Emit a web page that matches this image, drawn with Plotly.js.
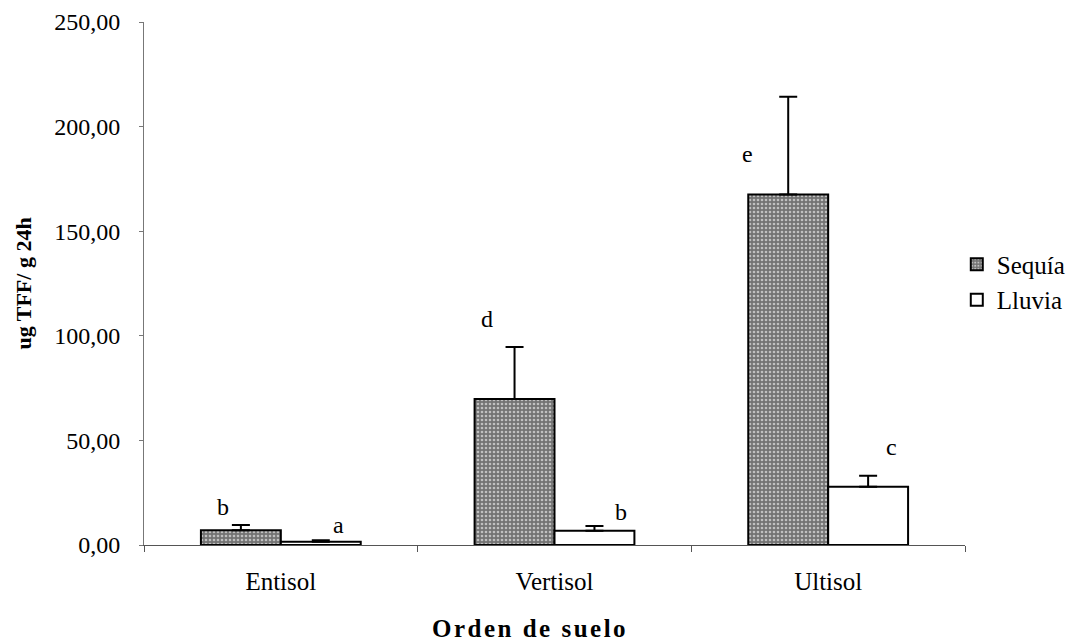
<!DOCTYPE html>
<html>
<head>
<meta charset="utf-8">
<script src="https://cdn.plot.ly/plotly-3.0.1.min.js"></script>
<style>html,body{margin:0;padding:0;background:#fff;}#chart{width:1075px;height:641px;}</style>
</head>
<body>
<div id="chart"></div>
<script>
const categories = ["Entisol", "Vertisol", "Ultisol"];
const sequiaValues = [7.0, 69.8, 167.6];
const sequiaErrors = [2.6, 24.8, 46.7];
const lluviaValues = [1.5, 6.8, 27.9];
const lluviaErrors = [0.8, 2.3, 5.2];
const sequiaLetters = ["b", "d", "e"];
const lluviaLetters = ["a", "b", "c"];
const sequiaLetterY = [18, 108, 187];
const lluviaLetterY = [9.5, 16, 47];
const yTicks = [0, 50, 100, 150, 200, 250];

const serif = "Liberation Serif";

const traces = [
  {
    type: "bar", name: "Sequía", x: categories, y: sequiaValues,
    marker: {
      color: "#8a8a8a",
      line: {color: "#000", width: 2},
      pattern: {shape: ".", bgcolor: "#737373", fgcolor: "#c0c0c0", size: 4, solidity: 0.35}
    },
    error_y: {type: "data", symmetric: false, array: sequiaErrors, arrayminus: [0,0,0], color: "#000", thickness: 2, width: 9}
  },
  {
    type: "bar", name: "Lluvia", x: categories, y: lluviaValues,
    marker: {color: "#fff", line: {color: "#000", width: 2}},
    error_y: {type: "data", symmetric: false, array: lluviaErrors, arrayminus: [0,0,0], color: "#000", thickness: 2, width: 9}
  }
];

const seqShift = [-58, -68, -81];
const lluShift = [58, 66, 63];
const annotations = [];
categories.forEach((c, i) => {
  annotations.push({x: c, y: sequiaLetterY[i], text: sequiaLetters[i], showarrow: false, xshift: seqShift[i], font: {family: serif, size: 24, color: "#000"}});
  annotations.push({x: c, y: lluviaLetterY[i], text: lluviaLetters[i], showarrow: false, xshift: lluShift[i], font: {family: serif, size: 24, color: "#000"}});
});
annotations.push({
  xref: "paper", yref: "paper", x: 0.47, y: -0.16, xanchor: "center", yanchor: "middle",
  text: "<b><span style=\"letter-spacing:2.5px\">Orden de suelo</span></b>", showarrow: false,
  font: {family: serif, size: 25, color: "#000"}
});

const layout = {
  width: 1075, height: 641,
  margin: {l: 144, r: 110, t: 22, b: 96, pad: 0, autoexpand: false},
  paper_bgcolor: "#fff", plot_bgcolor: "#fff",
  barmode: "group", bargap: 0.416, bargroupgap: 0,
  separators: ",.",
  font: {family: serif, size: 18, color: "#000"},
  showlegend: true,
  legend: {x: 0.99, xanchor: "left", y: 0.503, yanchor: "middle", font: {family: serif, size: 25, color: "#000"}, itemwidth: 30, tracegroupgap: 0, bgcolor: "rgba(0,0,0,0)"},
  xaxis: {
    type: "category", showgrid: false, zeroline: false,
    showline: true, linecolor: "#555", linewidth: 1,
    ticks: "outside", ticklen: 6, tickcolor: "#555", tickson: "boundaries",
    ticklabelstandoff: 14,
    tickfont: {family: serif, size: 25, color: "#000"}
  },
  yaxis: {
    range: [0, 250], tickvals: yTicks, tickformat: ".2f",
    showgrid: false, zeroline: false,
    showline: true, linecolor: "#777", linewidth: 1,
    ticks: "outside", ticklen: 4, tickcolor: "#777",
    ticklabelstandoff: 14,
    tickfont: {family: serif, size: 24, color: "#000"},
    title: {text: "<b>ug TFF/ g 24h</b>", font: {family: serif, size: 22, color: "#000"}, standoff: 16}
  },
  annotations: annotations
};

Plotly.newPlot("chart", traces, layout, {displayModeBar: false, staticPlot: true});
</script>
</body>
</html>
